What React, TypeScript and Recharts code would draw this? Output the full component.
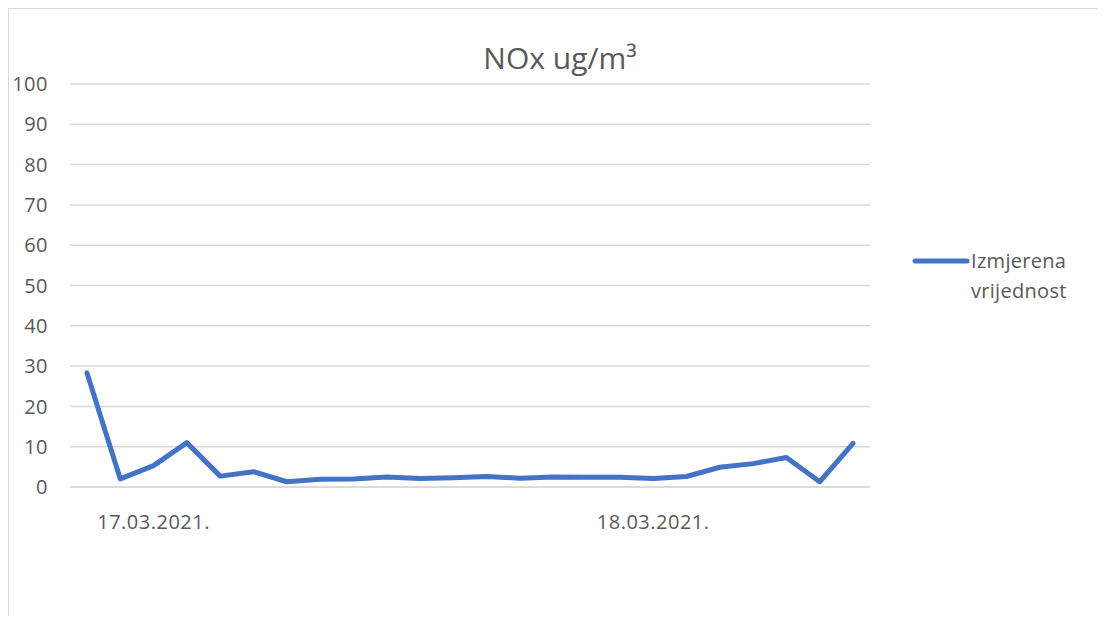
import { CartesianGrid, Legend, Line, LineChart, XAxis, YAxis } from "recharts";

// measured NOx values, one per interval
const values = [
  28.3, 2.0, 5.3, 11.0, 2.7, 3.8, 1.3, 1.9, 2.0, 2.5, 2.1, 2.3,
  2.6, 2.2, 2.5, 2.4, 2.4, 2.1, 2.6, 4.9, 5.8, 7.3, 1.3, 10.8,
];

// category labels (only two dates are shown on the axis)
const labels = [
  "", "", "17.03.2021.", "", "", "", "", "", "", "", "", "",
  "", "", "", "", "", "18.03.2021.", "", "", "", "", "", "",
];

const yTicks = [0, 10, 20, 30, 40, 50, 60, 70, 80, 90, 100];

const seriesName = "Izmjerena vrijednost";

const data = values.map((v, i) => ({ label: labels[i], value: v }));

const FONT = "'Open Sans', 'Liberation Sans', sans-serif";
const TEXT = "#595959";
const tickStyle = { fill: TEXT, fontSize: 20, fontFamily: FONT, letterSpacing: 0.5 };

function LegendBox() {
  return (
    <div style={{ display: "flex", alignItems: "flex-start", fontFamily: FONT, fontSize: 20, color: TEXT, letterSpacing: 0.3 }}>
      <svg width={58} height={30} style={{ flexShrink: 0 }}>
        <line x1={3} y1={15} x2={55} y2={15} stroke="#4472C4" strokeWidth={5} strokeLinecap="round" />
      </svg>
      <div style={{ lineHeight: "30px", marginLeft: 1 }}>
        Izmjerena
        <br />
        vrijednost
      </div>
    </div>
  );
}

export default function App() {
  return (
    <div
      style={{
        position: "relative",
        width: 1096,
        height: 607,
        borderTop: "1px solid #d9d9d9",
        borderLeft: "1px solid #d9d9d9",
      }}
    >
      <div
        style={{
          position: "absolute",
          left: 0,
          width: 1102,
          top: 30,
          textAlign: "center",
          fontFamily: FONT,
          fontSize: 30,
          color: TEXT,
          lineHeight: "38px",
        }}
      >
        NOx ug/m³
      </div>
      <LineChart width={1096} height={607} data={data} margin={{ top: 75, right: 235, bottom: 89, left: 0 }}>
        <CartesianGrid vertical={false} stroke="#d9d9d9" strokeWidth={1.5} />
        <XAxis
          dataKey="label"
          interval={0}
          padding={{ left: 17, right: 17 }}
          axisLine={{ stroke: "#d9d9d9", strokeWidth: 1.5 }}
          tickLine={false}
          tickSize={0}
          tickMargin={28}
          height={40}
          tick={tickStyle}
        />
        <YAxis
          domain={[0, 100]}
          ticks={yTicks}
          interval={0}
          width={61}
          axisLine={false}
          tickLine={false}
          tickSize={0}
          tickMargin={22}
          tick={tickStyle}
        />
        <Legend
          layout="vertical"
          align="center"
          verticalAlign="middle"
          wrapperStyle={{ left: 903, top: 237, width: 190 }}
          content={() => <LegendBox />}
        />
        <Line
          type="linear"
          dataKey="value"
          name={seriesName}
          stroke="#4472C4"
          strokeWidth={5}
          strokeLinejoin="round"
          strokeLinecap="round"
          dot={false}
          activeDot={false}
          isAnimationActive={false}
        />
      </LineChart>
    </div>
  );
}
